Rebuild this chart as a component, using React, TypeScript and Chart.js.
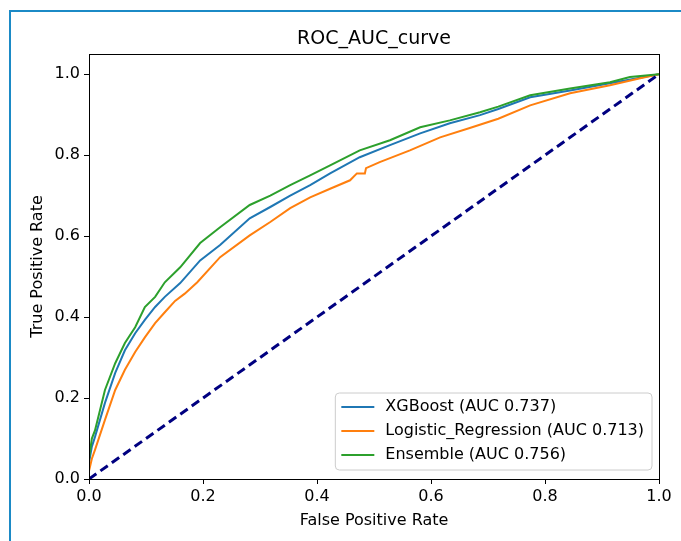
import React, { useEffect, useRef } from "react";
import { Chart, registerables } from "chart.js";

Chart.register(...registerables);

const chartTitle = "ROC_AUC_curve";
const xLabel = "False Positive Rate";
const yLabel = "True Positive Rate";
const xTicks = [0, 0.2, 0.4, 0.6, 0.8, 1.0];
const yTicks = [0, 0.2, 0.4, 0.6, 0.8, 1.0];

const seriesNames = [
  "XGBoost (AUC 0.737)",
  "Logistic_Regression (AUC 0.713)",
  "Ensemble (AUC 0.756)",
];
const seriesColors = ["#1f77b4", "#ff7f0e", "#2ca02c"];

const xgbFpr = [0, 0, 0.005, 0.0105, 0.028, 0.046, 0.063, 0.081, 0.098, 0.116, 0.133, 0.16, 0.195, 0.23, 0.282, 0.318, 0.353, 0.388, 0.423, 0.475, 0.528, 0.581, 0.633, 0.686, 0.718, 0.774, 0.844, 0.914, 1];
const xgbTpr = [0, 0.04, 0.08, 0.104, 0.188, 0.262, 0.318, 0.36, 0.393, 0.425, 0.45, 0.484, 0.54, 0.578, 0.644, 0.672, 0.7, 0.726, 0.755, 0.795, 0.825, 0.854, 0.879, 0.899, 0.914, 0.943, 0.96, 0.978, 1];

const lrFpr = [0, 0, 0.005, 0.0105, 0.028, 0.046, 0.063, 0.081, 0.098, 0.116, 0.133, 0.151, 0.168, 0.19, 0.23, 0.282, 0.318, 0.353, 0.388, 0.423, 0.458, 0.47, 0.484, 0.486, 0.51, 0.563, 0.616, 0.668, 0.718, 0.774, 0.844, 0.914, 0.967, 1];
const lrTpr = [0, 0.02, 0.05, 0.072, 0.146, 0.22, 0.27, 0.314, 0.35, 0.385, 0.412, 0.44, 0.458, 0.486, 0.548, 0.602, 0.635, 0.669, 0.696, 0.717, 0.738, 0.755, 0.755, 0.768, 0.783, 0.812, 0.844, 0.867, 0.89, 0.923, 0.953, 0.973, 0.99, 1];

const ensFpr = [0, 0, 0.005, 0.0105, 0.028, 0.046, 0.063, 0.081, 0.098, 0.116, 0.133, 0.16, 0.195, 0.23, 0.282, 0.318, 0.353, 0.388, 0.423, 0.475, 0.528, 0.581, 0.633, 0.686, 0.718, 0.774, 0.844, 0.914, 0.949, 1];
const ensTpr = [0, 0.05, 0.1, 0.12, 0.22, 0.286, 0.336, 0.375, 0.425, 0.45, 0.486, 0.523, 0.583, 0.622, 0.677, 0.7, 0.726, 0.75, 0.775, 0.812, 0.837, 0.869, 0.886, 0.906, 0.92, 0.948, 0.965, 0.98, 0.993, 1];

const diagFpr = [0, 1];
const diagTpr = [0, 1];

const FONT = "'DejaVu Sans', sans-serif";

const toPoints = (xs: number[], ys: number[]) => xs.map((x, i) => ({ x, y: ys[i] }));

const decorPlugin = {
  id: "decor",
  afterDraw(chart: any) {
    const { ctx, chartArea: a } = chart;
    ctx.save();
    ctx.strokeStyle = "#000";
    ctx.lineWidth = 1;
    ctx.strokeRect(Math.round(a.left) + 0.5, Math.round(a.top) + 0.5, Math.round(a.right - a.left), Math.round(a.bottom - a.top));
    ctx.fillStyle = "#000";
    ctx.font = `19px ${FONT}`;
    ctx.textAlign = "center";
    ctx.textBaseline = "middle";
    ctx.fillText(chartTitle, (a.left + a.right) / 2, 39);
    ctx.font = `16px ${FONT}`;
    const widths = seriesNames.map((s) => ctx.measureText(s).width);
    const maxW = Math.max(...widths);
    const handle = 33;
    const boxW = 6 + handle + 11 + maxW + 8;
    const rowH = 24;
    const boxH = 14 + rowH * (seriesNames.length - 1) + 15;
    const right = a.right - 7;
    const bottom = a.bottom - 9;
    const left = right - boxW;
    const top = bottom - boxH;
    const r = 4;
    ctx.beginPath();
    ctx.moveTo(left + r, top);
    ctx.lineTo(right - r, top);
    ctx.quadraticCurveTo(right, top, right, top + r);
    ctx.lineTo(right, bottom - r);
    ctx.quadraticCurveTo(right, bottom, right - r, bottom);
    ctx.lineTo(left + r, bottom);
    ctx.quadraticCurveTo(left, bottom, left, bottom - r);
    ctx.lineTo(left, top + r);
    ctx.quadraticCurveTo(left, top, left + r, top);
    ctx.closePath();
    ctx.fillStyle = "rgba(255,255,255,0.8)";
    ctx.fill();
    ctx.strokeStyle = "#cccccc";
    ctx.lineWidth = 1;
    ctx.stroke();
    ctx.textAlign = "left";
    ctx.textBaseline = "middle";
    seriesNames.forEach((name, i) => {
      const y = top + 14 + i * rowH;
      ctx.strokeStyle = seriesColors[i];
      ctx.lineWidth = 2;
      ctx.beginPath();
      ctx.moveTo(left + 6, y);
      ctx.lineTo(left + 6 + handle, y);
      ctx.stroke();
      ctx.fillStyle = "#000";
      ctx.fillText(name, left + 6 + handle + 11, y);
    });
    ctx.restore();
  },
};

export default function App() {
  const ref = useRef<HTMLCanvasElement | null>(null);

  useEffect(() => {
    if (!ref.current) return;
    Chart.defaults.font.family = FONT;
    Chart.defaults.color = "#000";
    const chart = new Chart(ref.current, {
      type: "line",
      data: {
        datasets: [
          { label: seriesNames[0], data: toPoints(xgbFpr, xgbTpr), borderColor: seriesColors[0], borderWidth: 2, pointRadius: 0, tension: 0, order: 3 },
          { label: seriesNames[1], data: toPoints(lrFpr, lrTpr), borderColor: seriesColors[1], borderWidth: 2, pointRadius: 0, tension: 0, order: 2 },
          { label: seriesNames[2], data: toPoints(ensFpr, ensTpr), borderColor: seriesColors[2], borderWidth: 2, pointRadius: 0, tension: 0, order: 1 },
          { label: "diagonal", data: toPoints(diagFpr, diagTpr), borderColor: "#000080", borderWidth: 3, borderDash: [9, 5], pointRadius: 0, tension: 0, order: 0 },
        ],
      },
      options: {
        animation: false,
        responsive: false,
        devicePixelRatio: 1,
        layout: { padding: { left: 24, right: 22, top: 54, bottom: 7 } },
        plugins: {
          legend: { display: false },
          title: { display: false },
          tooltip: { enabled: false },
        },
        scales: {
          x: {
            type: "linear",
            min: 0,
            max: 1,
            afterBuildTicks: (s: any) => {
              s.ticks = xTicks.map((v) => ({ value: v }));
            },
            afterFit: (s: any) => {
              s.height = 55;
            },
            ticks: {
              callback: (v: any) => Number(v).toFixed(1),
              font: { size: 16 },
              color: "#000",
              padding: 3,
              maxRotation: 0,
              autoSkip: false,
            },
            grid: { drawOnChartArea: false, drawTicks: true, tickLength: 5, color: "#000" },
            border: { display: true, color: "#000", width: 1 },
            title: { display: true, text: xLabel, font: { size: 16 }, color: "#000", padding: { top: 4, bottom: 4 } },
          },
          y: {
            type: "linear",
            min: 0,
            max: 1.05,
            afterBuildTicks: (s: any) => {
              s.ticks = yTicks.map((v) => ({ value: v }));
            },
            afterFit: (s: any) => {
              s.width = 65;
            },
            ticks: {
              callback: (v: any) => Number(v).toFixed(1),
              font: { size: 16 },
              color: "#000",
              padding: 4,
              autoSkip: false,
            },
            grid: { drawOnChartArea: false, drawTicks: true, tickLength: 5, color: "#000" },
            border: { display: true, color: "#000", width: 1 },
            title: { display: true, text: yLabel, font: { size: 16 }, color: "#000", padding: { top: 4, bottom: 4 } },
          },
        },
      },
      plugins: [decorPlugin],
    } as any);
    return () => chart.destroy();
  }, []);

  return (
    <div style={{ position: "fixed", left: 0, top: 0, width: 681, height: 541, background: "#fff", overflow: "hidden" }}>
      <canvas ref={ref} width={681} height={541} style={{ position: "absolute", left: 0, top: 0, width: 681, height: 541 }} />
      <div
        style={{
          position: "absolute",
          left: 9,
          top: 10,
          width: 720,
          height: 600,
          borderLeft: "2px solid #1b8ac6",
          borderTop: "2px solid #1b8ac6",
          pointerEvents: "none",
        }}
      />
    </div>
  );
}
